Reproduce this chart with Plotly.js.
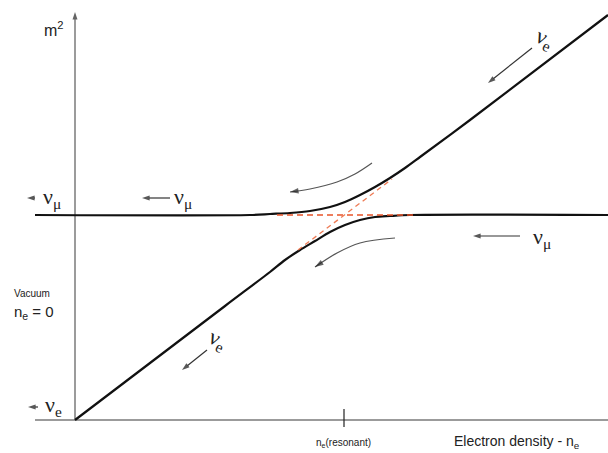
<!DOCTYPE html>
<html>
<head>
<meta charset="utf-8">
<script src="https://cdn.plot.ly/plotly-3.0.1.min.js"></script>
<style>html,body{margin:0;padding:0;background:#fff;}#plot{width:608px;height:453px;}</style>
</head>
<body>
<div id="plot"></div>
<script>
// Coordinates: x = electron density (arbitrary units), y = m^2 (arbitrary units)
// Upper eigenstate (nu_mu in vacuum -> nu_e at high density)
const upperX = [-40, 175, 195, 215, 235, 255, 270, 285, 300, 315, 330, 345, 395, 533];
const upperY = [205, 205, 206, 207, 209, 213, 218, 225, 233, 242, 252, 263, 300, 405];
// Lower eigenstate (nu_e in vacuum -> nu_mu at high density)
const lowerX = [0, 150, 195, 210, 225, 240, 255, 270, 285, 300, 315, 335, 533];
const lowerY = [0, 114, 148, 160, 170, 179, 188, 195, 200, 203, 204, 205, 205];
// Unmixed levels (dashed)
const dashMuX = [202, 342];
const dashMuY = [205, 205];
const dashEX = [223, 317];
const dashEY = [170, 241];
// Curved flow arrows
const flowUpX = [297, 280, 262, 235, 215];
const flowUpY = [257, 246, 238, 231, 228];
const flowLowX = [320, 285, 262, 240];
const flowLowY = [182, 177, 167, 153];
// Straight arrows: [tailX, tailY, headX, headY]
const arrowsStraight = [
  [-40, 222, -48, 222],
  [95, 222, 67, 222],
  [445, 184, 398, 184],
  [-37, 13, -47, 13],
  [457, 372, 413, 337],
  [132, 70, 107, 50]
];
// Axes
const axisX = [-40, 533];
const axisYtop = 408;
const resonantX = 269;

const black = '#111';
const grey = '#7a7a7a';

function arrowTrace(xs, ys, col, w, shape, size, headCol) {
  const n = xs.length;
  const sym = xs.map((_, i) => i === n - 1 ? 'arrow' : 'circle');
  const sz = xs.map((_, i) => i === n - 1 ? (size || 8) : 0);
  return {x: xs, y: ys, mode: 'lines+markers',
    line: {color: col, width: w, shape: shape || 'linear'},
    marker: {symbol: sym, size: sz, color: headCol || col, angleref: 'previous', line: {width: 0}}};
}

const traces = [
  {x: axisX, y: [0, 0], mode: 'lines', line: {color: grey, width: 1.5}},
  arrowTrace([0, 0], [0, axisYtop], grey, 1.5, 'linear', 8, '#222'),
  {x: [resonantX, resonantX], y: [11, -7], mode: 'lines', line: {color: '#222', width: 1.2}},
  {x: upperX, y: upperY, mode: 'lines', line: {color: black, width: 2.2, shape: 'spline', smoothing: 0.8}},
  {x: lowerX, y: lowerY, mode: 'lines', line: {color: black, width: 2.2, shape: 'spline', smoothing: 0.8}},
  {x: dashMuX, y: dashMuY, mode: 'lines', line: {color: '#e8542a', width: 1.6, dash: '6px,4px'}},
  {x: dashEX, y: dashEY, mode: 'lines', line: {color: '#ee7b55', width: 1.3, dash: '5px,4px'}},
  arrowTrace(flowUpX, flowUpY, '#555', 1.2, 'spline', 9, '#222'),
  arrowTrace(flowLowX, flowLowY, '#555', 1.2, 'spline', 9, '#222')
];
arrowsStraight.forEach(a => traces.push(arrowTrace([a[0], a[2]], [a[1], a[3]], '#333', 1.2, 'linear', 8, '#111')));

function label(x, y, text, size, fam, opts) {
  return Object.assign({x: x, y: y, xref: 'x', yref: 'y', text: text, showarrow: false,
    font: {size: size, family: fam, color: '#222'}}, opts || {});
}
const serif = 'Liberation Serif, Times New Roman, serif';
const sans = 'Liberation Sans, Arial, sans-serif';

const annotations = [
  label(-21, 391, 'm<sup>2</sup>', 16, sans),
  label(-23, 222, 'ν<sub>μ</sub>', 22, serif),
  label(108, 222, 'ν<sub>μ</sub>', 22, serif),
  label(467, 182, 'ν<sub>μ</sub>', 22, serif),
  label(-22, 14, 'ν<sub>e</sub>', 22, serif),
  label(469, 381, 'ν<sub>e</sub>', 22, serif, {textangle: 25}),
  label(142, 80, 'ν<sub>e</sub>', 22, serif, {textangle: 25}),
  label(268, -23, 'n<sub>e</sub>(resonant)', 10, sans),
  label(442, -22, 'Electron density - n<sub>e</sub>', 14, sans),
  label(-63, 127, 'Vacuum', 10, sans, {xanchor: 'left'}),
  label(-63, 108, 'n<sub>e</sub> = 0', 15, sans, {xanchor: 'left'})
];

const layout = {
  width: 608, height: 453,
  margin: {l: 0, r: 0, t: 0, b: 0},
  paper_bgcolor: '#fff', plot_bgcolor: '#fff',
  showlegend: false,
  xaxis: {range: [-75, 533], visible: false, fixedrange: true},
  yaxis: {range: [-33, 420], visible: false, fixedrange: true},
  annotations: annotations
};
Plotly.newPlot('plot', traces, layout, {staticPlot: true});
</script>
</body>
</html>
